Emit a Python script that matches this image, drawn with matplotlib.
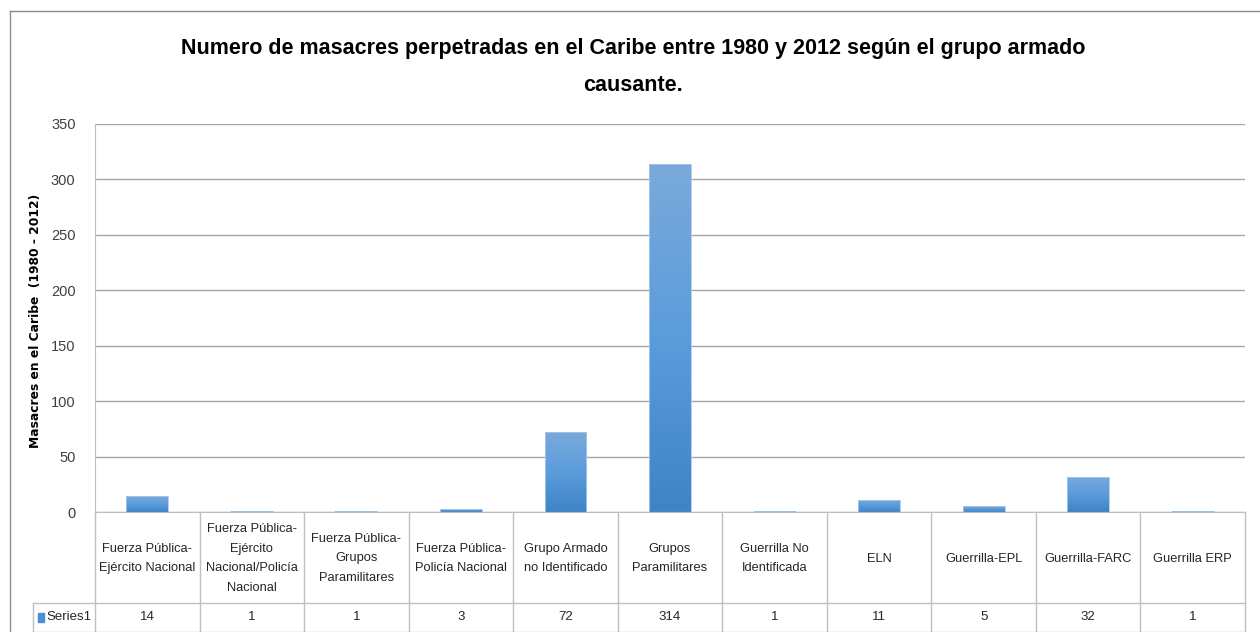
import numpy as np
import matplotlib
matplotlib.use("Agg")
import matplotlib.pyplot as plt
from matplotlib.lines import Line2D
from matplotlib.patches import Rectangle
from matplotlib.colors import LinearSegmentedColormap

# datos
categorias = [
    "Fuerza Pública-\nEjército Nacional",
    "Fuerza Pública-\nEjército\nNacional/Policía\nNacional",
    "Fuerza Pública-\nGrupos\nParamilitares",
    "Fuerza Pública-\nPolicía Nacional",
    "Grupo Armado\nno Identificado",
    "Grupos\nParamilitares",
    "Guerrilla No\nIdentificada",
    "ELN",
    "Guerrilla-EPL",
    "Guerrilla-FARC",
    "Guerrilla ERP",
]
masacres = [14, 1, 1, 3, 72, 314, 1, 11, 5, 32, 1]
yticks = [0, 50, 100, 150, 200, 250, 300, 350]
serie = "Series1"
titulo = ("Numero de masacres perpetradas en el Caribe entre 1980 y 2012 según el grupo armado\n"
          "causante.")
ylabel = "Masacres en el Caribe  (1980 - 2012)"

W, H = 1260, 632
FONT = ["Liberation Sans Narrow", "Liberation Sans", "DejaVu Sans"]
GRID = "#a6a6a6"
LINE = "#bfbfbf"


def fx(x):
    return x / W


def fy(y):
    return 1 - y / H


fig = plt.figure(figsize=(W / 100, H / 100), dpi=100)
fig.patch.set_facecolor("white")

# borde exterior del gráfico
fig.add_artist(Line2D([fx(10), fx(10)], [fy(11), 0], color="#8c8c8c", lw=1))
fig.add_artist(Line2D([fx(10), 1], [fy(11), fy(11)], color="#8c8c8c", lw=1))

# área de trazado
left, right, top, bottom = 95, 1245, 124, 512
ax = fig.add_axes([fx(left), fy(bottom), fx(right - left), fy(top) - fy(bottom)])
x = np.arange(len(masacres))
ax.set_yticks(yticks)
ax.set_xticks([])
ax.yaxis.grid(True, color=GRID, lw=1)
ax.set_axisbelow(True)
for s in ["top", "right"]:
    ax.spines[s].set_visible(False)
ax.spines["left"].set_color(LINE)
ax.spines["bottom"].set_color(LINE)
ax.tick_params(axis="y", length=0, pad=14, labelsize=10.5, labelcolor="#404040")
for t in ax.get_yticklabels():
    t.set_family(FONT)

# barras con degradado
cmap = LinearSegmentedColormap.from_list("azul", ["#3f84c6", "#5b9cdc", "#7aaada"])
grad = np.linspace(0, 1, 256).reshape(-1, 1)
bars = ax.bar(x, masacres, width=0.4, color="none", edgecolor="#a9c8ea", lw=0.6, zorder=3)
for b in bars:
    x0, y0 = b.get_x(), b.get_y()
    w, h = b.get_width(), b.get_height()
    im = ax.imshow(grad, cmap=cmap, aspect="auto", origin="lower",
                   extent=[x0, x0 + w, y0, y0 + h], zorder=2)
    im.set_clip_path(b)
ax.set_xlim(-0.5, len(masacres) - 0.5)
ax.set_ylim(0, 350)

# título y etiqueta del eje y
fig.text(fx(633), fy(67), titulo, ha="center", va="center", family=FONT,
         fontsize=15.5, fontweight="bold", linespacing=2.0)
fig.text(fx(36), fy(321), ylabel, rotation=90, ha="center", va="center",
         fontsize=8.8, fontweight="bold", family="DejaVu Sans")

# tabla de datos debajo del eje
tab = fig.add_axes([fx(left), 0, fx(right - left), fy(bottom)])
tab.set_xlim(-0.5, len(masacres) - 0.5)
tab.set_ylim(H - bottom, 0)
tab.axis("off")
row = 91
end = 119.5
for i in range(len(masacres) + 1):
    tab.plot([i - 0.5, i - 0.5], [0, end], color=LINE, lw=1, clip_on=False)
colw = (right - left) / len(masacres)
xs = -0.5 - (left - 33) / colw
tab.plot([xs, len(masacres) - 0.5], [row, row], color=LINE, lw=1, clip_on=False)
tab.plot([xs, len(masacres) - 0.5], [end, end], color=LINE, lw=1, clip_on=False)
tab.plot([xs, xs], [row, end], color=LINE, lw=1, clip_on=False)
for i, (c, v) in enumerate(zip(categorias, masacres)):
    tab.text(i, row / 2 + 1, c, ha="center", va="center", family=FONT, fontsize=9.3,
             linespacing=1.85, color="#262626")
    tab.text(i, (row + end) / 2, str(v), ha="center", va="center", family=FONT,
             fontsize=9.5, color="#262626")
tab.add_patch(Rectangle((xs + 5 / colw, 100.5), 6 / colw, 9, color="#4a8fd2", clip_on=False))
tab.text(xs + 13 / colw, (row + end) / 2, serie, ha="left", va="center", family=FONT,
         fontsize=9.5, color="#262626")

fig.savefig("out.png", dpi=100, facecolor="white")
